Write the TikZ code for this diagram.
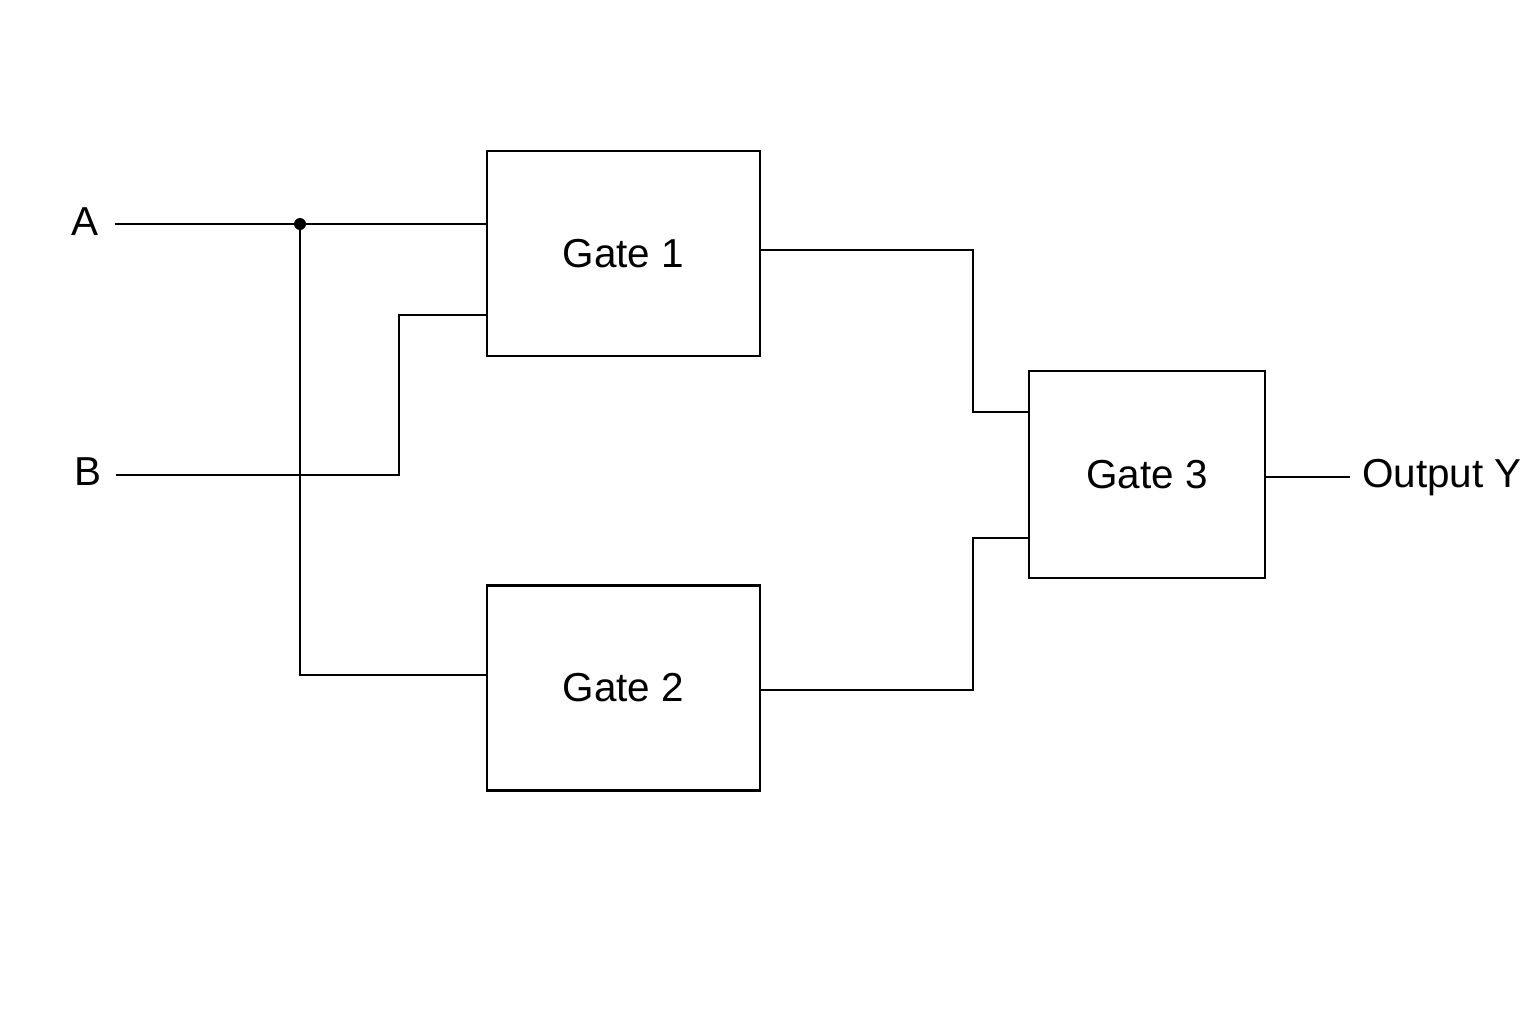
\documentclass[tikz,border=0pt]{standalone}
\usepackage{fontspec}
\setmainfont{Liberation Sans}
\usetikzlibrary{calc}
\begin{document}
\begin{tikzpicture}[x=0.01cm, y=-0.01cm,
    gate/.style ={rectangle, draw, thick, minimum width=2.73cm, minimum height=2.05cm, font=\fontsize{11.5}{14}\selectfont},
    pin/.style ={font=\fontsize{11.5}{14}\selectfont},
    wire/.style ={thick}]
   \useasboundingbox (0,0) rectangle (1536,1024);
   \node[gate] (G1) at (623.5,253.5) {Gate 1};
   \node[gate] (G2) at (623.5,688) {Gate 2};
   \node[gate, minimum width=2.36cm, minimum height=2.07cm] (G3) at (1147,474.5) {Gate 3};
   \node[pin] (A) at (85,222) {A};
   \node[pin] (B) at (88,472) {B};
   \node[pin] (Y) at (1442,478) {Output Y};
   \coordinate (J) at (300,224);
   \draw[wire] (A.east |- 0,224) ++(4,0) -- (J) -- (G1.west |- J);
   \fill (J) circle (6);
   \draw[wire] (J) -- (300,675) -- (G2.west |- 0,675);
   \draw[wire] (B.east |- 0,475) ++(2,0) -- (399,475) -- (399,315) -- (G1.west |- 0,315);
   \draw[wire] (G1.east |- 0,250) -- (973,250) -- (973,412) -- (G3.west |- 0,412);
   \draw[wire] (G2.east |- 0,690) -- (973,690) -- (973,538) -- (G3.west |- 0,538);
   \draw[wire] (G3.east |- 0,477) -- (Y.west |- 0,477);
\end{tikzpicture}
\end{document}
